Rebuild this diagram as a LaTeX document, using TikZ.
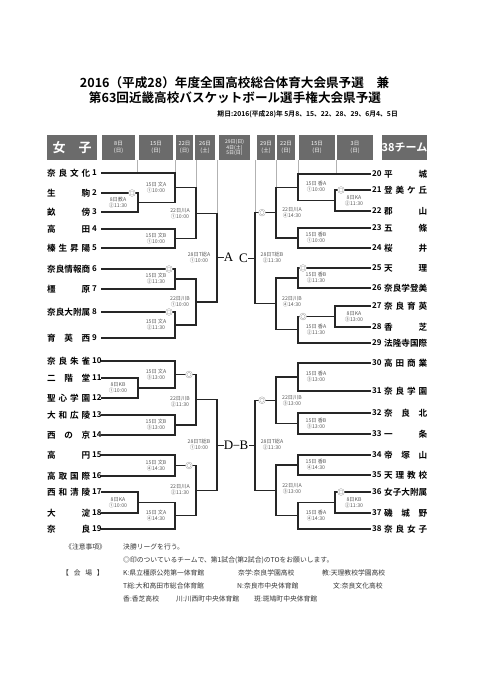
\documentclass[tikz,border=0pt]{standalone}
\usepackage{fontspec}
\newfontfamily\jp{Noto Sans CJK JP}[BoldFont={Noto Sans CJK JP Bold}]
\newfontfamily\serf{Liberation Serif}
\newcommand\nm[1]{\makebox[43pt][s]{#1}}
\begin{document}
\begin{tikzpicture}[x=1pt,y=-1pt,
  br/.style={draw=black!85,line width=1.1pt,line cap=rect},
  gl/.style={draw=black!30,line width=0.6pt},
  lbl/.style={font=\jp\fontsize{5.2}{6}\selectfont,text=black!65,align=center,inner sep=0pt},
  tm/.style={font=\jp\bfseries\fontsize{8.6}{9}\selectfont,inner sep=0pt,anchor=west},
  num/.style={font=\jp\bfseries\fontsize{8}{9}\selectfont,inner sep=0pt,anchor=west},
  hd/.style={fill=black!58,text=white,align=center,inner sep=0pt,font=\jp\fontsize{5.5}{6.3}\selectfont,minimum height=25pt},
  mk/.style={circle,draw=black!35,fill=white,double=white,double distance=0.7pt,line width=0.45pt,minimum size=5.5pt,inner sep=0pt},
  ttl/.style={font=\jp\bfseries\fontsize{12.6}{14}\selectfont,inner sep=0pt},
  nt/.style={font=\jp\fontsize{6.8}{8}\selectfont,text=black!80,inner sep=0pt,anchor=west},
  ltr/.style={font=\serf\fontsize{13}{14}\selectfont,inner sep=0.5pt}
]
\useasboundingbox (0,0) rectangle (481,680);

% titles
\node[ttl] (t1) at (234.5,83) {2016（平成28）年度全国高校総合体育大会県予選　兼};
\node[ttl] (t2) at (235,97.5) {第63回近畿高校バスケットボール選手権大会県予選};
\node[font=\jp\bfseries\fontsize{6.8}{8}\selectfont,inner sep=0pt,anchor=east] (t3) at (398,114) {期日:2016(平成28)年 5月8、15、22、28、29、6月4、5日};

% header
\node[hd,minimum width=50pt,font=\jp\bfseries\fontsize{13}{14}\selectfont] (hJ) at (72,147.5) {女\hspace{1em}子};
\node[hd,minimum width=33pt] (h1) at (118.5,147.5) {8日\\(日)};
\node[hd,minimum width=34pt] (h2) at (156,147.5) {15日\\(日)};
\node[hd,minimum width=17pt] (h3) at (184.5,147.5) {22日\\(日)};
\node[hd,minimum width=20pt] (h4) at (205,147.5) {26日\\(土)};
\node[hd,minimum width=31pt,font=\jp\fontsize{5}{5.8}\selectfont] (h5) at (234.5,147.5) {29日(日)\\4日(土)\\5日(日)};
\node[hd,minimum width=18pt] (h6) at (266,147.5) {29日\\(土)};
\node[hd,minimum width=18pt] (h7) at (286,147.5) {22日\\(日)};
\node[hd,minimum width=36pt] (h8) at (317,147.5) {15日\\(日)};
\node[hd,minimum width=36pt] (h9) at (355,147.5) {3日\\(日)};
\node[hd,minimum width=43pt,font=\jp\bfseries\fontsize{11}{12}\selectfont] (hT) at (404.5,147.5) {38チーム};

% left teams
\foreach \i/\y/\n in {1/173/{奈\hfill 良\hfill 文\hfill 化},2/193/{生\hfill 駒},3/212/{畝\hfill 傍},4/229/{高\hfill 田},5/248/{榛\hfill 生\hfill 昇\hfill 陽},6/269/{奈\hfill 良\hfill 情\hfill 報\hfill 商},7/289/{橿\hfill 原},8/312/{奈\hfill 良\hfill 大\hfill 附\hfill 属},9/338/{育\hfill 英\hfill 西},10/361/{奈\hfill 良\hfill 朱\hfill 雀},11/378/{二\hfill 階\hfill 堂},12/398/{聖\hfill 心\hfill 学\hfill 園},13/415/{大\hfill 和\hfill 広\hfill 陵},14/435/{西\hfill の\hfill 京},15/455/{高\hfill 円},16/476/{高\hfill 取\hfill 国\hfill 際},17/492/{西\hfill 和\hfill 清\hfill 陵},18/513/{大\hfill 淀},19/529/{奈\hfill 良}}{
  \node[tm] (nL\i) at (47,\y) {\nm{\n}};
  \node[num] (kL\i) at (92,\y) {\i};
  \coordinate (L\i) at (102,\y);
}
% right teams
\foreach \i/\y/\n in {20/174/{平\hfill 城},21/190/{登\hfill 美\hfill ケ\hfill 丘},22/211/{郡\hfill 山},23/228/{五\hfill 條},24/248/{桜\hfill 井},25/268/{天\hfill 理},26/288/{奈\hfill 良\hfill 学\hfill 登\hfill 美},27/306/{奈\hfill 良\hfill 育\hfill 英},28/327/{香\hfill 芝},29/343/{法\hfill 隆\hfill 寺\hfill 国\hfill 際},30/363/{高\hfill 田\hfill 商\hfill 業},31/391/{奈\hfill 良\hfill 学\hfill 園},32/413/{奈\hfill 良\hfill 北},33/434/{一\hfill 条},34/455/{帝\hfill 塚\hfill 山},35/475/{天\hfill 理\hfill 教\hfill 校},36/492/{女\hfill 子\hfill 大\hfill 附\hfill 属},37/513/{磯\hfill 城\hfill 野},38/529/{奈\hfill 良\hfill 女\hfill 子}}{
  \node[num] (kR\i) at (372,\y) {\i};
  \node[tm] (nR\i) at (384,\y) {\nm{\n}};
  \coordinate (R\i) at (370,\y);
}

% match points left
\coordinate (a1) at (138,202.5);
\coordinate (a2) at (175,187.75);
\coordinate (a3) at (175,238.5);
\coordinate (a4) at (196,213.1);
\coordinate (a5) at (175,279);
\coordinate (a6) at (175,325);
\coordinate (a7) at (196,302);
\coordinate (aF) at (217,257.6);
\coordinate (d1) at (138,388);
\coordinate (d2) at (175,374.5);
\coordinate (d3) at (175,425);
\coordinate (d4) at (196,399.75);
\coordinate (d5) at (175,465.5);
\coordinate (d6) at (138,502.5);
\coordinate (d7) at (175,515.75);
\coordinate (d8) at (196,490.6);
\coordinate (dF) at (217,445.2);
% match points right
\coordinate (c1) at (335,200.5);
\coordinate (c2) at (298,187.25);
\coordinate (c3) at (298,238);
\coordinate (c4) at (276,212.6);
\coordinate (c5) at (298,278);
\coordinate (c6) at (335,316.5);
\coordinate (c7) at (298,329.75);
\coordinate (c8) at (276,303.9);
\coordinate (cF) at (255,258.25);
\coordinate (b1) at (298,377);
\coordinate (b2) at (298,423.5);
\coordinate (b3) at (276,400.25);
\coordinate (b4) at (298,465);
\coordinate (b5) at (335,502.5);
\coordinate (b6) at (298,515.75);
\coordinate (b7) at (276,490.4);
\coordinate (bF) at (255,445.3);

% gray column lines
\draw[gl] (137,160) -- (137,173);
\draw[gl] (175,160) -- (a2 |- L1);
\draw[gl] (196,160) -- (a2 -| a4);
\draw[gl] (217,160) -- (a4 -| aF);
\draw[gl] (255,160) -- (c4 -| cF);
\draw[gl] (276,160) -- (c2 -| c4);
\draw[gl] (298,160) -- (c2 |- R20);
\draw[gl] (336,160) -- (336,174);

% brackets left
\draw[br] (L2) -| (a1) (L3) -| (a1);
\draw[br] (L1) -| (a2) (a1) -| (a2);
\draw[br] (L4) -| (a3) (L5) -| (a3);
\draw[br] (a2) -| (a4) (a3) -| (a4);
\draw[br] (L6) -| (a5) (L7) -| (a5);
\draw[br] (L8) -| (a6) (L9) -| (a6);
\draw[br] (a5) -| (a7) (a6) -| (a7);
\draw[br] (a4) -| (aF) (a7) -| (aF);
\draw[br] (L11) -| (d1) (L12) -| (d1);
\draw[br] (L10) -| (d2) (d1) -| (d2);
\draw[br] (L13) -| (d3) (L14) -| (d3);
\draw[br] (d2) -| (d4) (d3) -| (d4);
\draw[br] (L15) -| (d5) (L16) -| (d5);
\draw[br] (L17) -| (d6) (L18) -| (d6);
\draw[br] (d6) -| (d7) (L19) -| (d7);
\draw[br] (d5) -| (d8) (d7) -| (d8);
\draw[br] (d4) -| (dF) (d8) -| (dF);
% brackets right
\draw[br] (R21) -| (c1) (R22) -| (c1);
\draw[br] (R20) -| (c2) (c1) -| (c2);
\draw[br] (R23) -| (c3) (R24) -| (c3);
\draw[br] (c2) -| (c4) (c3) -| (c4);
\draw[br] (R25) -| (c5) (R26) -| (c5);
\draw[br] (R27) -| (c6) (R28) -| (c6);
\draw[br] (c6) -| (c7) (R29) -| (c7);
\draw[br] (c5) -| (c8) (c7) -| (c8);
\draw[br] (c4) -| (cF) (c8) -| (cF);
\draw[br] (R30) -| (b1) (R31) -| (b1);
\draw[br] (R32) -| (b2) (R33) -| (b2);
\draw[br] (b1) -| (b3) (b2) -| (b3);
\draw[br] (R34) -| (b4) (R35) -| (b4);
\draw[br] (R36) -| (b5) (R37) -| (b5);
\draw[br] (b5) -| (b6) (R38) -| (b6);
\draw[br] (b4) -| (b7) (b6) -| (b7);
\draw[br] (b3) -| (bF) (b7) -| (bF);

% block letters
\node[ltr] (A) at (228.5,257.6) {A};
\node[ltr] (C) at (243.5,258.25) {C};
\node[ltr] (D) at (228.5,445.2) {D};
\node[ltr] (B) at (244,445.3) {B};
\draw[br,line width=0.8pt] (aF) -- (A.west);
\draw[br,line width=0.8pt] (C.east) -- (cF);
\draw[br,line width=0.8pt] (dF) -- (D.west);
\draw[br,line width=0.8pt] (D.east) -- (B.west);
\draw[br,line width=0.8pt] (B.east) -- (bF);

% marks
\node[mk] (m1) at (132,193) {};
\node[mk] (m2) at (169,269) {};
\node[mk] (m3) at (169,312) {};
\node[mk] (m4) at (189,374.5) {};
\node[mk] (m5) at (189,465.5) {};
\node[mk] (m6) at (341,190) {};
\node[mk] (m7) at (262,212.6) {};
\node[mk] (m8) at (303,268) {};
\node[mk] (m9) at (303,316.5) {};
\node[mk] (m10) at (262,400.25) {};
\node[mk] (m11) at (341,492) {};

% labels left
\node[lbl] (la1) at (118,203) {8日教A\\②11:30};
\node[lbl] (la2) at (156,188) {15日 文A\\①10:00};
\node[lbl] (la3) at (156,238.5) {15日 文B\\①10:00};
\node[lbl] (la4) at (180,214) {22日川A\\①10:00};
\node[lbl] (la5) at (156,279) {15日 文B\\②11:30};
\node[lbl] (la6) at (156,325) {15日 文A\\②11:30};
\node[lbl] (la7) at (180,302) {22日川B\\①10:00};
\node[lbl] (la8) at (199,258) {28日T総A\\①10:00};
\node[lbl] (ld1) at (118,388) {8日KB\\①10:00};
\node[lbl] (ld2) at (156,375) {15日 文A\\③13:00};
\node[lbl] (ld3) at (156,425) {15日 文B\\③13:00};
\node[lbl] (ld4) at (180,402) {22日川B\\②11:30};
\node[lbl] (ld5) at (156,465.5) {15日 文B\\④14:30};
\node[lbl] (ld6) at (118,502.5) {8日KA\\①10:00};
\node[lbl] (ld7) at (156,516) {15日 文A\\④14:30};
\node[lbl] (ld8) at (180,490) {22日川A\\②11:30};
\node[lbl] (ld9) at (199,445) {28日T総B\\①10:00};
% labels right
\node[lbl] (lc1) at (354,200.5) {8日KA\\②11:30};
\node[lbl] (lc2) at (316,187) {15日 香A\\①10:00};
\node[lbl] (lc3) at (316,238) {15日 香B\\①10:00};
\node[lbl] (lc4) at (292,213) {22日川A\\④14:30};
\node[lbl] (lc5) at (316,278) {15日 香B\\②11:30};
\node[lbl] (lc6) at (354,316.5) {8日KA\\③13:00};
\node[lbl] (lc7) at (316,330) {15日 香A\\②11:30};
\node[lbl] (lc8) at (292,302) {22日川B\\④14:30};
\node[lbl] (lc9) at (272,258) {28日T総B\\②11:30};
\node[lbl] (lb1) at (316,377) {15日 香A\\③13:00};
\node[lbl] (lb2) at (292,401) {22日川B\\③13:00};
\node[lbl] (lb3) at (316,423.5) {15日 香B\\③13:00};
\node[lbl] (lb4) at (272,445) {28日T総A\\②11:30};
\node[lbl] (lb5) at (316,465) {15日 香B\\④14:30};
\node[lbl] (lb6) at (292,489) {22日川A\\③13:00};
\node[lbl] (lb7) at (354,502.5) {8日KB\\②11:30};
\node[lbl] (lb8) at (316,516) {15日 香A\\④14:30};

% notes
\node[nt] (o1) at (65,547) {《注意事項》};
\node[nt] (o2) at (123,547) {決勝リーグを行う。};
\node[nt] (o3) at (123,560) {◎印のついているチームで、第1試合(第2試合)のTOをお願いします。};
\node[nt] (o4) at (62,573) {【\hspace{0.7em}会\hspace{0.7em}場\hspace{0.7em}】};
\node[nt] (o5) at (123,573) {K:県立橿原公苑第一体育館};
\node[nt] (o6) at (238,573) {奈学:奈良学園高校};
\node[nt] (o7) at (322,573) {教:天理教校学園高校};
\node[nt] (o8) at (123,586) {T総:大和高田市総合体育館};
\node[nt] (o9) at (237,586) {N:奈良市中央体育館};
\node[nt] (o10) at (333,586) {文:奈良文化高校};
\node[nt] (o11) at (123,599) {香:香芝高校};
\node[nt] (o12) at (176,599) {川:川西町中央体育館};
\node[nt] (o13) at (254,599) {斑:斑鳩町中央体育館};
\end{tikzpicture}
\end{document}
